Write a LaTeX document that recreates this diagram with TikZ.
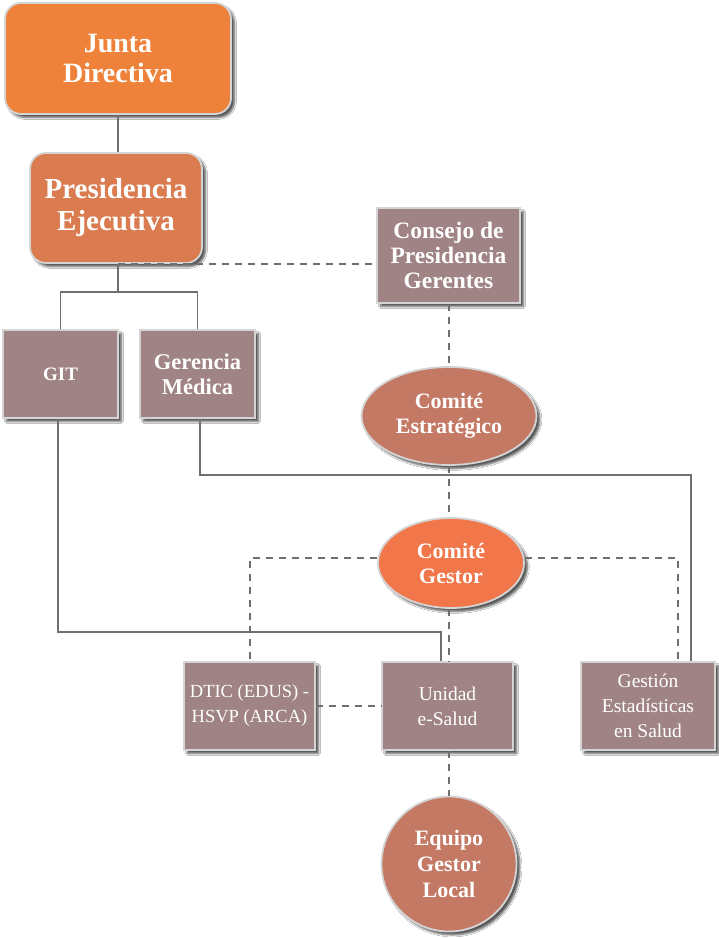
\documentclass[tikz,border=0pt]{standalone}
\usepackage{fontspec}
\setmainfont{Liberation Serif}
\usetikzlibrary{shadows.blur,shapes.geometric}
\definecolor{cJunta}{HTML}{EE823A}
\definecolor{cPres}{HTML}{DB7B50}
\definecolor{cBox}{HTML}{A08485}
\definecolor{cEst}{HTML}{C47965}
\definecolor{cGes}{HTML}{F1764A}
\definecolor{cLine}{HTML}{6F6F6F}
\definecolor{cBord}{HTML}{D4D4D4}
\begin{document}
\begin{tikzpicture}[x=1pt,y=-1pt,
  base/.style={draw=cBord,line width=1.8pt,text=white,align=center,inner sep=0pt,
    blur shadow={shadow xshift=3.5pt,shadow yshift=-3.5pt,shadow blur steps=6,shadow opacity=65}},
  rbox/.style={base,rounded corners=16pt},
  gbox/.style={base,fill=cBox,font=\bfseries\fontsize{22.5}{25}\selectfont},
  lbox/.style={base,fill=cBox,font=\fontsize{19.5}{25}\selectfont},
  ell/.style={base,ellipse,font=\bfseries\fontsize{22}{25}\selectfont},
  solidline/.style={draw=cLine,line width=1.6pt},
  dashline/.style={draw=cLine,line width=1.6pt,dash pattern=on 7pt off 6pt}]
\useasboundingbox (0,0) rectangle (719,938);
\fill[white] (0,0) rectangle (719,938);
\coordinate (split) at (118,292);
\coordinate (gitc) at (58,632);
\coordinate (unc) at (441,632);
\coordinate (gmc) at (200,475);
\coordinate (gsc) at (691,475);
\coordinate (dl) at (250,558);
\coordinate (dr) at (678,558);
% nodes
\node[rbox,fill=cJunta,minimum width=226pt,minimum height=111pt,font=\bfseries\fontsize{28}{30}\selectfont] (junta) at (118,58.5) {Junta\\Directiva};
\node[rbox,fill=cPres,minimum width=172pt,minimum height=110pt,font=\bfseries\fontsize{29}{32}\selectfont] (pres) at (116,208) {Presidencia\\Ejecutiva};
\node[gbox,font=\bfseries\fontsize{23.5}{25}\selectfont,minimum width=143pt,minimum height=95pt] (cons) at (448.5,255.5) {Consejo de\\Presidencia\\Gerentes};
\node[gbox,font=\bfseries\fontsize{19}{25}\selectfont,minimum width=115pt,minimum height=88pt] (git) at (60.5,374) {GIT};
\node[gbox,minimum width=115pt,minimum height=88pt] (gm) at (197.5,374) {Gerencia\\Médica};
\node[ell,fill=cEst,minimum width=175pt,minimum height=98pt] (est) at (449,416) {Comité\\Estratégico};
\node[ell,fill=cGes,minimum width=146pt,minimum height=90pt] (ges) at (451,563) {Comité\\Gestor};
\node[lbox,font=\fontsize{18.5}{25}\selectfont,minimum width=131pt,minimum height=88pt] (dtic) at (249.5,706) {DTIC (EDUS) -\\HSVP (ARCA)};
\node[lbox,minimum width=131pt,minimum height=88pt] (uni) at (447.5,706) {Unidad\\e-Salud};
\node[lbox,minimum width=134pt,minimum height=88pt] (gest) at (648,706) {Gestión\\Estadísticas\\en Salud};
\node[base,circle,fill=cEst,minimum size=135pt,font=\bfseries\fontsize{22}{26}\selectfont] (eq) at (449,864) {Equipo\\Gestor\\Local};
% connectors
\draw[solidline] (junta.south) -- (junta.south |- pres.north);
\draw[solidline] (pres.south -| split) -- (split);
\draw[solidline] (git.north) |- (split) -| (gm.north);
\draw[dashline] (pres.south -| split) -- (cons.west |- pres.south);
\draw[dashline] (cons.south -| est.north) -- (est.north);
\draw[solidline] (git.south -| gitc) -- (gitc) -- (unc) -- (uni.north -| unc);
\draw[solidline] (gm.south -| gmc) -- (gmc) -- (gsc) -- (gest.north -| gsc);
\draw[dashline] (est.south) -- (ges.north -| est.south);
\draw[dashline] (ges.west |- dl) -- (dl) -- (dtic.north -| dl);
\draw[dashline] (ges.east |- dr) -- (dr) -- (gest.north -| dr);
\draw[dashline] (ges.south -| est.south) -- (uni.north -| est.south);
\draw[dashline] (dtic.east) -- (uni.west);
\draw[dashline] (uni.south -| eq.north) -- (eq.north);
\end{tikzpicture}
\end{document}
